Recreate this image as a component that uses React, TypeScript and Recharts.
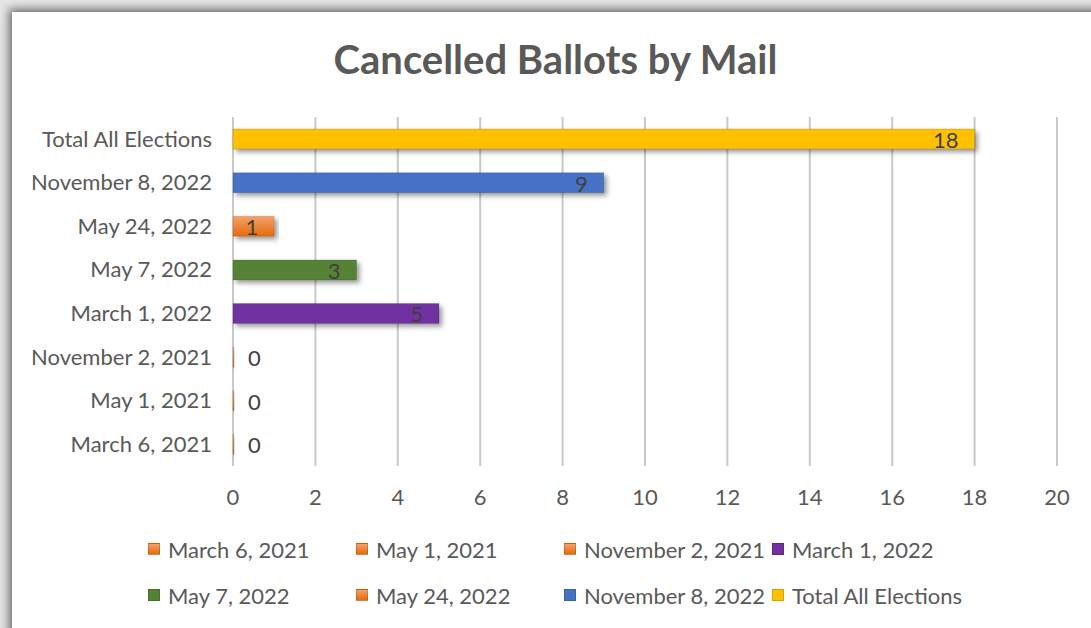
import React from 'react'
import {
    BarChart,
    Bar,
    XAxis,
    YAxis,
    CartesianGrid,
    Legend,
    Cell,
    LabelList,
} from "recharts"

const categories = [
    "Total All Elections",
    "November 8, 2022",
    "May 24, 2022",
    "May 7, 2022",
    "March 1, 2022",
    "November 2, 2021",
    "May 1, 2021",
    "March 6, 2021",
]
const values = [18, 9, 1, 3, 5, 0, 0, 0]
const seriesColors = ["#FFC000", "#4472C4", "#ED7D31", "#548235", "#7030A0", "#ED7D31", "#ED7D31", "#ED7D31"]
const xTicks = [0, 2, 4, 6, 8, 10, 12, 14, 16, 18, 20]

const FONT = "Lato, 'Open Sans', sans-serif"
const FS = 22

const chartData = categories.map((name, i) => ({ name, value: values[i], color: seriesColors[i] }))
// Excel legend lists the series bottom-up
const legendItems = [...chartData].reverse()

const fillFor = (c: string) => (c === "#ED7D31" ? "url(#orangeGrad)" : c)

const renderLabel = (props: any) => {
    const { x, y, width, height, value } = props
    const cy = Number(y) + Number(height) / 2 + 1
    if (!value) {
        return (
            <text x={Number(x) + 15} y={cy} dy="0.36em" fill="#404040" fontSize={FS} fontFamily={FONT} textAnchor="start">
                {value}
            </text>
        )
    }
    return (
        <text x={Number(x) + Number(width) - 16} y={cy} dy="0.36em" fill="#404040" fontSize={FS} fontFamily={FONT} textAnchor="end">
            {value}
        </text>
    )
}

const LegendBox = () => (
    <div style={{
        display: 'grid',
        gridTemplateColumns: 'repeat(4, 208px)',
        gridAutoRows: '46px',
        paddingLeft: 148,
        fontFamily: FONT,
        fontSize: FS,
        color: '#595959',
    }}>
        {legendItems.map((item) => (
            <div key={item.name} style={{ display: 'flex', alignItems: 'center', whiteSpace: 'nowrap' }}>
                <span style={{
                    display: 'inline-block',
                    width: 12,
                    height: 12,
                    marginRight: 8,
                    background: item.color === "#ED7D31" ? 'linear-gradient(#F4A16B, #E46C0A)' : item.color,
                    border: '1px solid rgba(0,0,0,0.15)',
                    boxSizing: 'border-box',
                }} />
                {item.name}
            </div>
        ))}
    </div>
)

const App: React.FC = () => {
    return (
        <div style={{ position: 'absolute', left: 0, top: 0, width: 1091, height: 628, overflow: 'hidden', background: '#e6e6e6' }}>
            <div style={{
                position: 'absolute', left: 12, top: 12, width: 1100, height: 640,
                background: '#fff', boxShadow: '-3px -3px 9px rgba(0,0,0,0.55)',
            }} />
            <div style={{
                position: 'absolute', left: 0, top: 35, width: 1111, textAlign: 'center',
                fontFamily: FONT, fontWeight: 700, fontSize: 40, lineHeight: '48px', color: '#595959',
            }}>
                Cancelled Ballots by Mail
            </div>
            <div style={{ position: 'absolute', left: 0, top: 0 }}>
                <BarChart
                    width={1091}
                    height={628}
                    data={chartData}
                    layout="vertical"
                    margin={{ top: 117, right: 34, bottom: 12, left: 0 }}
                >
                    <defs>
                        <linearGradient id="orangeGrad" x1="0" y1="0" x2="0" y2="1">
                            <stop offset="0%" stopColor="#F4A16B" />
                            <stop offset="100%" stopColor="#E46C0A" />
                        </linearGradient>
                        <filter id="barShadow" x="-10%" y="-50%" width="120%" height="220%">
                            <feDropShadow dx="3" dy="3" stdDeviation="2.5" floodColor="#000" floodOpacity="0.4" />
                        </filter>
                    </defs>
                    <CartesianGrid horizontal={false} stroke="#c9c9c9" strokeWidth={2} />
                    <XAxis
                        type="number"
                        domain={[0, 20]}
                        ticks={xTicks}
                        axisLine={false}
                        tickLine={false}
                        tickSize={0}
                        tickMargin={23}
                        height={60}
                        interval={0}
                        tick={{ fill: '#595959', fontSize: FS, fontFamily: FONT }}
                    />
                    <YAxis
                        type="category"
                        dataKey="name"
                        width={233}
                        axisLine={false}
                        tickLine={false}
                        tickSize={0}
                        tickMargin={21}
                        interval={0}
                        tick={{ fill: '#595959', fontSize: FS, fontFamily: FONT }}
                    />
                    <Legend
                        verticalAlign="bottom"
                        content={() => <LegendBox />}
                        wrapperStyle={{ left: 0, top: 526, width: 1091, height: 90 }}
                    />
                    <Bar dataKey="value" barSize={20} minPointSize={1} isAnimationActive={false} filter="url(#barShadow)">
                        {chartData.map((d) => (
                            <Cell key={d.name} fill={fillFor(d.color)} stroke="rgba(0,0,0,0.12)" strokeWidth={1} />
                        ))}
                        <LabelList dataKey="value" content={renderLabel} />
                    </Bar>
                </BarChart>
            </div>
        </div>
    )
}

export default App
